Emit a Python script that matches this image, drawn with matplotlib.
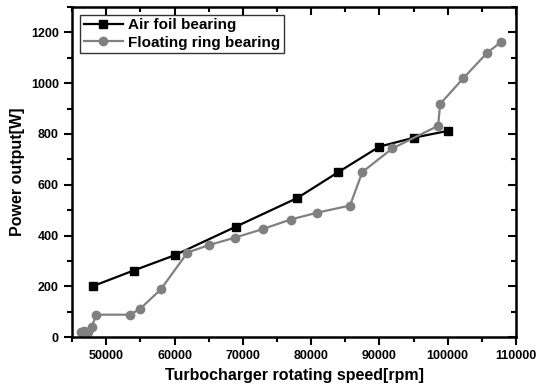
import matplotlib.pyplot as plt
from matplotlib.ticker import MultipleLocator

plt.rcParams['font.family'] = ['Liberation Sans', 'DejaVu Sans']
plt.rcParams['font.weight'] = 'bold'

# --- Data ---
air_speed = [48000, 54000, 60000, 69000, 78000, 84000, 90000, 95000, 100000]
air_power = [200, 262, 322, 435, 548, 650, 750, 785, 812]

ring_speed = [46300, 46800, 47400, 47900, 48500, 53500, 55000, 58000, 61900,
              65000, 68900, 73000, 77000, 80900, 85700, 87500, 91900, 98600,
              98900, 102300, 105800, 107800]
ring_power = [20, 22, 20, 40, 88, 88, 112, 188, 333,
              362, 392, 426, 463, 490, 518, 650, 743, 832,
              918, 1020, 1120, 1162]

fig = plt.figure(figsize=(5.38, 3.91), dpi=100)
ax = fig.add_axes([0.134, 0.138, 0.825, 0.844])

ax.plot(air_speed, air_power, color='black', lw=1.6, marker='s', ms=5.5,
        label='Air foil bearing')
ax.plot(ring_speed, ring_power, color='#808080', lw=1.6, marker='o', ms=6,
        label='Floating ring bearing')

ax.set_xlim(45000, 110000)
ax.set_ylim(0, 1300)
ax.xaxis.set_major_locator(MultipleLocator(10000))
ax.xaxis.set_minor_locator(MultipleLocator(5000))
ax.yaxis.set_major_locator(MultipleLocator(200))
ax.yaxis.set_minor_locator(MultipleLocator(100))

for s in ax.spines.values():
    s.set_linewidth(1.8)
ax.tick_params(which='both', direction='out', width=1.5, labelsize=9)
ax.tick_params(which='major', length=6)
ax.tick_params(which='minor', length=3.5)

# mirrored ticks on top/right, pointing inward
top = ax.secondary_xaxis('top')
top.set_xticks(range(50000, 110001, 10000))
top.xaxis.set_minor_locator(MultipleLocator(5000))
top.tick_params(which='both', direction='in', width=1.5, labeltop=False)
top.tick_params(which='major', length=6)
top.tick_params(which='minor', length=3.5)
right = ax.secondary_yaxis('right')
right.set_yticks(range(0, 1301, 200))
right.yaxis.set_minor_locator(MultipleLocator(100))
right.tick_params(which='both', direction='in', width=1.5, labelright=False)
right.tick_params(which='major', length=6)
right.tick_params(which='minor', length=3.5)

ax.set_xlabel('Turbocharger rotating speed[rpm]', fontsize=11.5, fontweight='bold')
ax.set_ylabel('Power output[W]', fontsize=11.5, fontweight='bold')

leg = ax.legend(loc='upper left', fontsize=11, fancybox=False, edgecolor='black',
                borderpad=0.25, handlelength=2.6, handletextpad=0.3,
                labelspacing=0.2, borderaxespad=0.5)
leg.get_frame().set_linewidth(1.0)
for t in leg.get_texts():
    t.set_fontweight('bold')

plt.savefig('out.png', dpi=100)
